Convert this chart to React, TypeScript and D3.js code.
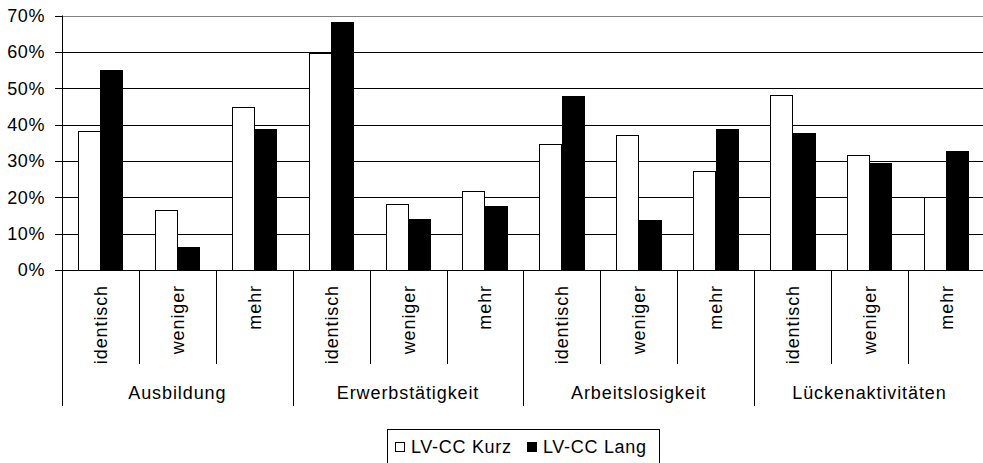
import React from "react";
import * as d3 from "d3";

const groups = ["Ausbildung", "Erwerbstätigkeit", "Arbeitslosigkeit", "Lückenaktivitäten"];
const subcats = ["identisch", "weniger", "mehr"];
const seriesNames = ["LV-CC Kurz", "LV-CC Lang"];
const kurz = [0.382, 0.164, 0.449, 0.598, 0.182, 0.217, 0.347, 0.372, 0.273, 0.481, 0.316, 0.2];
const lang = [0.549, 0.063, 0.387, 0.682, 0.14, 0.175, 0.479, 0.138, 0.387, 0.378, 0.295, 0.327];
const yTicks = [0, 0.1, 0.2, 0.3, 0.4, 0.5, 0.6, 0.7];

const W = 983;
const H = 463;
const FONT = "'Liberation Sans', Arial, sans-serif";

export default function App() {
  const left = 62;
  const right = 62 + 12 * 76.9;
  const y0 = 270;
  const yTop = 15.5;
  const keys = d3.range(12).map(String);
  const x = d3.scaleBand<string>().domain(keys).range([left, right]).paddingInner(0).paddingOuter(0);
  const xs = d3
    .scaleBand<string>()
    .domain(seriesNames)
    .range([0, x.bandwidth()])
    .paddingInner(0)
    .paddingOuter(0.709);
  const y = d3.scaleLinear().domain([0, 0.7]).range([y0, yTop]);
  const fmt = d3.format(".0%");
  const series = [kurz, lang];
  const groupW = x.step() * 3;

  return (
    <svg
      width={W}
      height={H}
      style={{ position: "absolute", left: 0, top: 0, background: "#fff" }}
      fontFamily={FONT}
    >
      {/* gridlines */}
      {yTicks.map((t, i) => (
        <line
          key={"g" + i}
          x1={left}
          x2={W}
          y1={Math.round(y(t)) + 0.5}
          y2={Math.round(y(t)) + 0.5}
          stroke={i === yTicks.length - 1 ? "#808080" : "#000"}
          strokeWidth={1}
        />
      ))}
      {/* bars */}
      {series.map((vals, si) =>
        vals.map((v, i) => {
          const bx = Math.round((x(String(i)) as number) + (xs(seriesNames[si]) as number)) + 0.5;
          const by = Math.round(y(v)) + 0.5;
          return (
            <rect
              key={`b${si}-${i}`}
              x={bx}
              y={by}
              width={Math.round(xs.bandwidth())}
              height={y0 + 0.5 - by}
              fill={si === 0 ? "#fff" : "#000"}
              stroke="#000"
              strokeWidth={1}
            />
          );
        })
      )}
      {/* y axis */}
      <line x1={left + 0.5} x2={left + 0.5} y1={yTop} y2={406} stroke="#000" />
      {yTicks.map((t, i) => (
        <g key={"yt" + i}>
          <line
            x1={55}
            x2={left}
            y1={Math.round(y(t)) + 0.5}
            y2={Math.round(y(t)) + 0.5}
            stroke="#000"
          />
          <text
            x={45}
            y={y(t)}
            dy="0.36em"
            textAnchor="end"
            fontSize={18}
            letterSpacing={0.6}
            fill="#000"
          >
            {fmt(t)}
          </text>
        </g>
      ))}
      {/* x axis line */}
      <line x1={left} x2={W} y1={y0 + 0.5} y2={y0 + 0.5} stroke="#000" />
      {/* separators */}
      {d3.range(1, 12).map((i) => {
        const xx = Math.round(x(String(i)) as number) + 0.5;
        const isGroup = i % 3 === 0;
        return (
          <line key={"s" + i} x1={xx} x2={xx} y1={y0} y2={isGroup ? 406 : 364} stroke="#000" />
        );
      })}
      {/* subcategory labels */}
      {keys.map((k, i) => {
        const cx = (x(k) as number) + x.bandwidth() / 2;
        return (
          <text
            key={"sl" + i}
            transform={`translate(${cx},285) rotate(-90)`}
            textAnchor="end"
            dy="0.36em"
            fontSize={18}
            letterSpacing={0.9}
            fill="#000"
          >
            {subcats[i % 3]}
          </text>
        );
      })}
      {/* group labels */}
      {groups.map((g, gi) => (
        <text
          key={"gl" + gi}
          x={left + gi * groupW + groupW / 2}
          y={399}
          textAnchor="middle"
          fontSize={18}
          letterSpacing={0.9}
          fill="#000"
        >
          {g}
        </text>
      ))}
      {/* legend */}
      <rect x={387.5} y={429.5} width={272} height={40} fill="#fff" stroke="#000" />
      <rect x={395.5} y={442.5} width={9} height={9} fill="#fff" stroke="#000" />
      <text x={411} y={453} fontSize={18} letterSpacing={0.7} fill="#000">
        {seriesNames[0]}
      </text>
      <rect x={527.5} y={442.5} width={9} height={9} fill="#000" stroke="#000" />
      <text x={543} y={453} fontSize={18} letterSpacing={0.7} fill="#000">
        {seriesNames[1]}
      </text>
    </svg>
  );
}
